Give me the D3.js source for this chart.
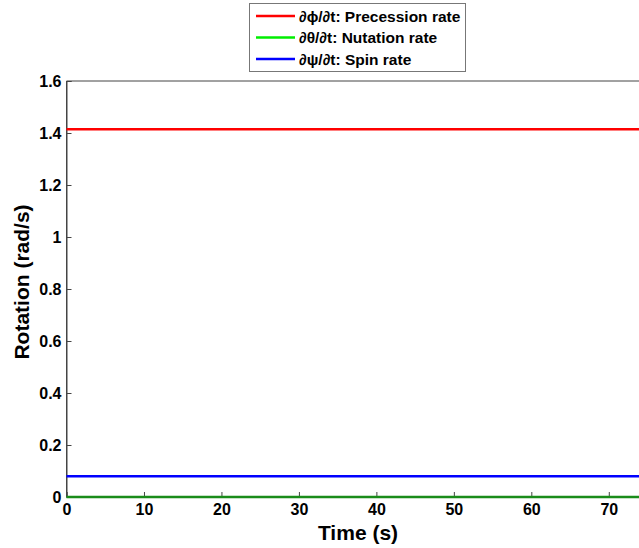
<!DOCTYPE html>
<html><head><meta charset="utf-8">
<script src="https://cdn.jsdelivr.net/npm/d3@7"></script>
<style>html,body{margin:0;padding:0;background:#fff;overflow:hidden}</style>
</head><body>
<svg id="c" width="639" height="548"></svg>
<script>
const time = [0, 10, 20, 30, 40, 50, 60, 70, 74];
const precession = [1.414, 1.414, 1.414, 1.414, 1.414, 1.414, 1.414, 1.414, 1.414];
const nutation = [0, 0, 0, 0, 0, 0, 0, 0, 0];
const spin = [0.08, 0.08, 0.08, 0.08, 0.08, 0.08, 0.08, 0.08, 0.08];
const seriesNames = ["∂ϕ/∂t: Precession rate", "∂θ/∂t: Nutation rate", "∂ψ/∂t: Spin rate"];
const seriesColors = ["#ff0000", "#00ee00", "#0000ff"];
const plotColors = ["#ff0000", "#1a8c1a", "#0000ff"];
const xTicks = [0, 10, 20, 30, 40, 50, 60, 70];
const yTicks = [0, 0.2, 0.4, 0.6, 0.8, 1, 1.2, 1.4, 1.6];

const svg = d3.select("#c");
const L = 66.5, T = 81, B = 497;
const x = d3.scaleLinear().domain([0, 73.9]).range([L, 639]);
const y = d3.scaleLinear().domain([0, 1.6]).range([B, T]);
const font = "Arial, 'Liberation Sans', sans-serif";

svg.append("line").attr("x1", L).attr("x2", 640).attr("y1", T).attr("y2", T).attr("stroke", "#444");
svg.append("line").attr("x1", L).attr("x2", L).attr("y1", T).attr("y2", B).attr("stroke", "#444");

const xa = svg.append("g").attr("transform", `translate(0,${B})`)
  .call(d3.axisBottom(x).tickValues(xTicks).tickSize(-5).tickPadding(7).tickFormat(d3.format("d")));
const ya = svg.append("g").attr("transform", `translate(${L},0)`)
  .call(d3.axisLeft(y).tickValues(yTicks).tickSize(-5).tickPadding(5).tickFormat(d => d3.format("~g")(d)));
[xa, ya].forEach(a => {
  a.select(".domain").attr("stroke", "#444");
  a.selectAll(".tick line").attr("stroke", "#444");
  a.selectAll("text").attr("font-family", font).attr("font-weight", "bold").attr("font-size", 16).attr("fill", "#000");
});

const series = [precession, nutation, spin];
const line = d3.line().x((d, i) => x(time[i])).y(d => y(d));
series.forEach((s, k) => {
  svg.append("path").datum(s).attr("d", line).attr("fill", "none")
    .attr("stroke", plotColors[k]).attr("stroke-width", 2.5);
});

svg.append("text").attr("x", 358).attr("y", 540).attr("text-anchor", "middle")
  .attr("font-family", font).attr("font-weight", "bold").attr("font-size", 21).text("Time (s)");
svg.append("text").attr("transform", "translate(29,282) rotate(-90)").attr("text-anchor", "middle")
  .attr("font-family", font).attr("font-weight", "bold").attr("font-size", 21).text("Rotation (rad/s)");

const lg = svg.append("g");
lg.append("rect").attr("x", 249.5).attr("y", 3.5).attr("width", 216).attr("height", 68)
  .attr("fill", "#fff").attr("stroke", "#777");
seriesNames.forEach((n, i) => {
  const yy = 16 + i * 21.5;
  lg.append("line").attr("x1", 256).attr("x2", 295).attr("y1", yy).attr("y2", yy)
    .attr("stroke", seriesColors[i]).attr("stroke-width", 2.5);
  lg.append("text").attr("x", 299).attr("y", yy + 5.5).attr("font-family", font)
    .attr("font-weight", "bold").attr("font-size", 15.5).text(n);
});
</script>
</body></html>
